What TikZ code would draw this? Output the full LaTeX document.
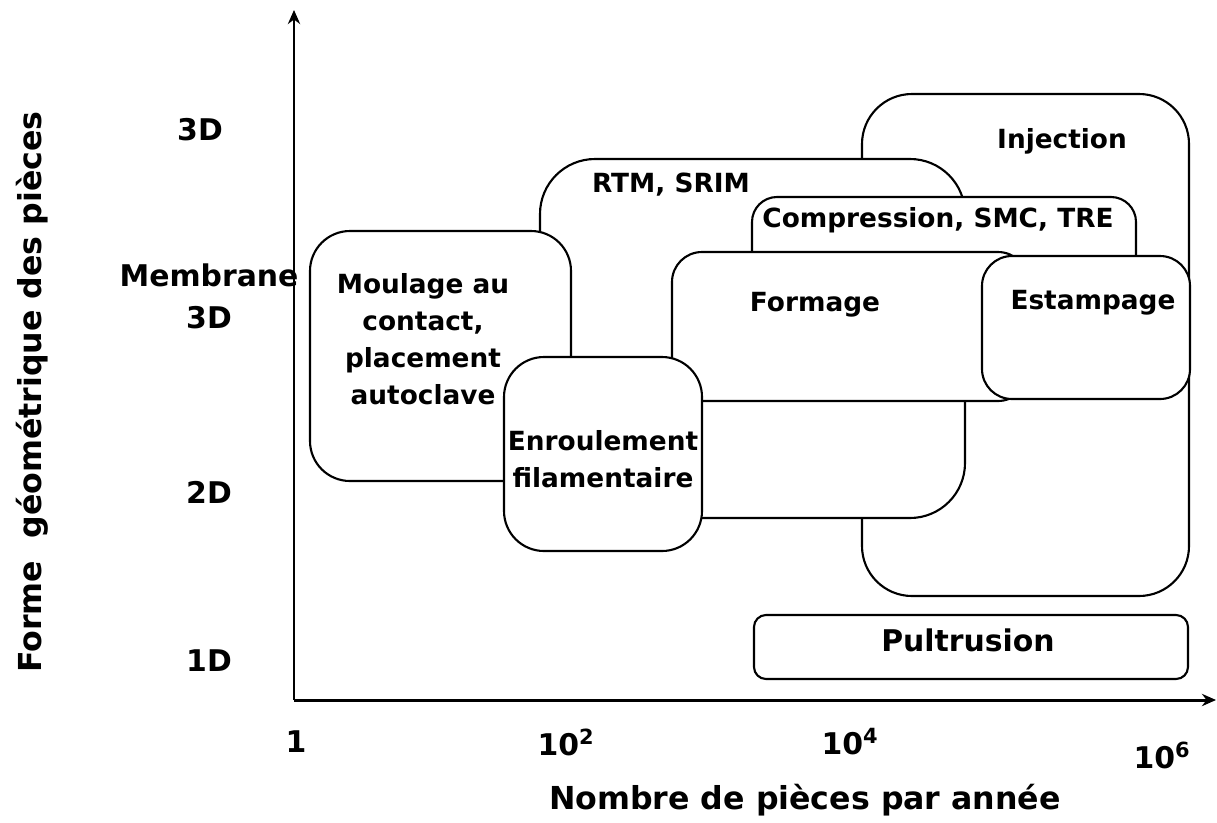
\documentclass[tikz,border=0pt]{standalone}
\usepackage{fontspec}
\setmainfont{DejaVu Sans}
\usetikzlibrary{arrows.meta}
\begin{document}
\begin{tikzpicture}[x=0.02cm, y=-0.02cm, >={Stealth[length=8pt,width=7pt]},
  procbox/.style={draw, line width=1.2pt, fill=white},
  lbl/.style={font=\bfseries\fontsize{15}{21}\selectfont, align=center, inner sep=0pt},
  tick/.style={font=\bfseries\fontsize{17}{24}\selectfont, align=center, inner sep=0pt},
  axtitle/.style={font=\bfseries\fontsize{18}{22}\selectfont, inner sep=0pt}]
  \useasboundingbox (0,0) rectangle (1217,822);

  % Axes
  \coordinate (O) at (294,700);
  \coordinate (Ytop) at (294,10);
  \coordinate (Xend) at (1216,700);
  \draw[->, line width=1.7pt] (O) -- (Ytop);
  \draw[->, line width=1.7pt] (O) -- (Xend);

  % Process domains, back to front
  \draw[procbox, rounded corners=1cm] (862,94) rectangle (1189,596);
  \draw[procbox, rounded corners=1.1cm] (540,159) rectangle (965,518);
  \draw[procbox, rounded corners=0.5cm] (752,197) rectangle (1136,300);
  \draw[procbox, rounded corners=0.6cm] (672,252) rectangle (1028,401);
  \draw[procbox, rounded corners=0.6cm] (982,256) rectangle (1190,399);
  \draw[procbox, rounded corners=0.8cm] (310,231) rectangle (571,481);
  \draw[procbox, rounded corners=0.8cm] (504,357) rectangle (702,551);
  \draw[procbox, rounded corners=0.24cm] (754,615) rectangle (1188,679);

  \node[lbl] (inj) at (1062,141) {Injection};
  \node[lbl] (rtm) at (671,185) {RTM, SRIM};
  \node[lbl] (comp) at (938,220) {Compression, SMC, TRE};
  \node[lbl] (form) at (815,305) {Formage};
  \node[lbl] (estamp) at (1093,303) {Estampage};
  \node[lbl] (moul) at (423,339) {Moulage au\\contact,\\placement\\autoclave};
  \node[lbl] (enroul) at (603,459) {Enroulement\\filamentaire};
  \node[lbl, font=\bfseries\fontsize{17}{21}\selectfont] (pult) at (968,640) {Pultrusion};

  % Axis labels
  \node[tick] (y3d) at (200,130) {3D};
  \node[tick] (ymemb) at (209,296) {Membrane\\3D};
  \node[tick] (y2d) at (209,492) {2D};
  \node[tick] (y1d) at (209,661) {1D};
  \node[tick] (x0) at (296,742) {1};
  \node[tick] (x2) at (566,742) {10\textsuperscript{2}};
  \node[tick] (x4) at (850,742) {10\textsuperscript{4}};
  \node[tick] (x6) at (1162,755) {10\textsuperscript{6}};
  \node[axtitle] (xtitle) at (805,800) {Nombre de pièces par année};
  \node[axtitle, rotate=90] (ytitle) at (32,392) {Forme\hspace{0.7em}géométrique des pièces};
\end{tikzpicture}
\end{document}
